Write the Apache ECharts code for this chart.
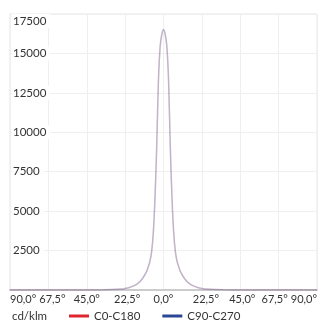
<!DOCTYPE html>
<html><head><meta charset="utf-8">
<script src="https://cdn.jsdelivr.net/npm/echarts@6/dist/echarts.min.js"></script>
<style>html,body{margin:0;padding:0;background:#fff}#c{width:320px;height:320px}</style>
</head><body><div id="c"></div>
<script>
var angles = [-90,-75,-60,-45,-35,-30,-25,-22.5,-20,-17.5,-15,-12.5,-10,-9,-8,-7,-6,-5,-4,-3,-2,-1,0,1,2,3,4,5,6,7,8,9,10,12.5,15,17.5,20,22.5,25,30,35,45,60,75,90];
var c0c180 = [0,0,2,5,12,25,60,100,160,260,420,700,1150,1450,1800,2400,3600,5800,9000,13200,15400,16200,16500,16200,15400,13200,9000,5800,3600,2400,1800,1450,1150,700,420,260,160,100,60,25,12,5,2,0,0];
var c90c270 = [0,0,2,5,12,25,60,100,160,260,420,700,1150,1450,1800,2400,3600,5800,9000,13200,15400,16200,16500,16200,15400,13200,9000,5800,3600,2400,1800,1450,1150,700,420,260,160,100,60,25,12,5,2,0,0];
var xTickLabels = ['90,0°','67,5°','45,0°','22,5°','0,0°','22,5°','45,0°','67,5°','90,0°'];
var seriesNames = ['C0-C180','C90-C270'];
var unitLabel = 'cd/klm';

var chart = echarts.init(document.getElementById('c'), null, {renderer:'canvas'});
function pairs(v){ return angles.map(function(a,i){return [a,v[i]];}); }
var font = 'Lato, sans-serif';
var shiftStyle = ['n','r4','n','r2','n','r4','r2','l4','n'];
function rs(pad){ return {color:'#333',fontSize:11,fontFamily:font,padding:pad}; }
chart.setOption({
  animation:false,
  grid:{left:10,right:1,top:14,bottom:30,show:true,borderColor:'#e6e6e6',borderWidth:1},
  xAxis:[{type:'value',min:-90,max:90,interval:22.5,
    axisLine:{show:true,lineStyle:{color:'#cccccc',width:2}},
    axisTick:{show:false},
    splitLine:{show:true,lineStyle:{color:'#efefef'}},
    axisLabel:{show:false}},
   {type:'category',data:xTickLabels,boundaryGap:false,position:'bottom',
    axisLine:{show:false},axisTick:{show:false},splitLine:{show:false},
    axisLabel:{interval:0,color:'#333',fontSize:11,fontFamily:font,margin:4,showMinLabel:true,showMaxLabel:true,hideOverlap:false,
      alignMinLabel:'left',alignMaxLabel:'right',
      formatter:function(v,i){return '{'+shiftStyle[i]+'|'+v+'}';},
      rich:{n:rs([0,0,0,0]),r4:rs([0,0,0,8]),r2:rs([0,0,0,4]),l4:rs([0,8,0,0])}}}],
  yAxis:{type:'value',min:0,max:17500,interval:2500,
    axisLine:{show:false},axisTick:{show:false},
    splitLine:{show:true,lineStyle:{color:'#efefef'}},
    axisLabel:{inside:true,showMinLabel:false,color:'#333',fontSize:11.5,fontFamily:font,margin:2,
      formatter:function(v){return String(v);},
      verticalAlignMaxLabel:'top',backgroundColor:'#fff',padding:[1,4,1,1]}},
  legend:{left:69,top:310,itemWidth:20,itemHeight:3,itemGap:22,icon:'rect',padding:0,
    textStyle:{color:'#333',fontSize:11.5,fontFamily:font},
    data:[{name:seriesNames[0],itemStyle:{color:'#e0262e'}},{name:seriesNames[1],itemStyle:{color:'#2a4797'}}]},
  graphic:[{type:'text',left:12,top:310,style:{text:unitLabel,fill:'#333',font:'11.5px Lato, sans-serif'}}],
  series:[
    {name:seriesNames[0],type:'line',xAxisIndex:0,data:pairs(c0c180),showSymbol:false,smooth:0.3,
      itemStyle:{color:'#e0262e'},lineStyle:{color:'rgba(224,38,46,0.16)',width:1.5}},
    {name:seriesNames[1],type:'line',xAxisIndex:0,data:pairs(c90c270),showSymbol:false,smooth:0.3,
      itemStyle:{color:'#2a4797'},lineStyle:{color:'rgba(42,71,151,0.28)',width:1.5}}
  ]
});
</script></body></html>
